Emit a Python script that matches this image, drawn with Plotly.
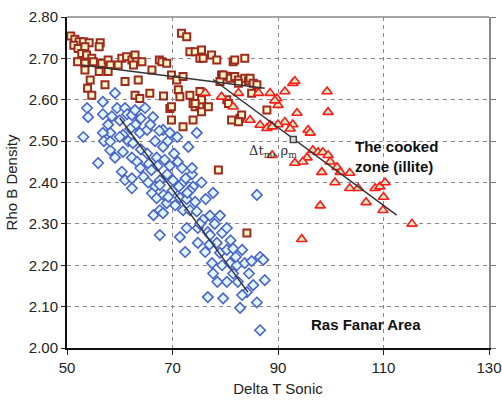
import plotly.graph_objects as go

# ---- data ----
blue_x = [53.8, 54.0, 53.1, 55.9, 56.8, 59.1, 56.8, 57.8, 59.5, 58.2, 60.0, 61.0, 61.4, 62.3, 62.9, 64.8, 66.3,
          60.6, 61.6, 62.5, 63.8, 65.2, 66.7, 68.2, 69.1, 70.9, 73.0, 74.6, 59.1, 60.6, 62.3, 63.3, 65.2, 67.0,
          68.2, 60.4, 61.0, 62.3, 62.3, 63.9, 64.5, 65.4, 66.7, 67.6, 69.0, 70.1, 71.0, 71.8, 72.0, 73.7, 73.9,
          77.7, 56.8, 58.2, 66.4, 67.6, 67.6, 66.1, 67.0, 68.3, 68.9, 67.6, 68.2, 73.7, 73.3, 71.4, 72.7, 74.3,
          72.0, 73.3, 74.6, 75.8, 77.1, 79.0, 86.0, 72.7, 74.8, 76.7, 79.4, 80.3, 71.4, 72.4, 74.8, 76.2, 77.1,
          78.4, 79.0, 80.3, 81.5, 83.2, 77.5, 79.4, 77.7, 80.9, 82.2, 83.7, 80.3, 82.4, 85.3, 84.1, 76.7, 79.6,
          83.2, 86.0, 82.8, 86.6, 87.2, 87.5, 86.6, 75.2,
          64.0, 65.5, 66.0, 67.2, 68.5, 69.5, 70.3, 70.0, 71.2, 72.5, 69.2, 70.5, 72.8, 63.0, 64.0, 65.8, 67.5,
          69.5, 62.0, 58.5, 57.0, 75.5, 76.3, 78.0, 81.0, 82.0, 84.5, 85.0, 78.5, 81.5, 77.0, 60.0, 58.2]
blue_y = [2.580, 2.558, 2.510, 2.447, 2.595, 2.616, 2.565, 2.540, 2.580, 2.520, 2.550, 2.580, 2.565, 2.563, 2.575,
          2.580, 2.558, 2.515, 2.500, 2.495, 2.520, 2.527, 2.500, 2.527, 2.500, 2.510, 2.486, 2.520, 2.460, 2.474,
          2.460, 2.450, 2.470, 2.460, 2.486, 2.426, 2.406, 2.410, 2.386, 2.435, 2.414, 2.400, 2.390, 2.405, 2.420,
          2.405, 2.450, 2.435, 2.400, 2.420, 2.390, 2.375, 2.520, 2.478, 2.321, 2.333, 2.273, 2.374, 2.362, 2.370,
          2.350, 2.394, 2.326, 2.435, 2.380, 2.363, 2.360, 2.353, 2.333, 2.333, 2.330, 2.310, 2.320, 2.320, 2.370,
          2.290, 2.290, 2.280, 2.278, 2.290, 2.268, 2.232, 2.254, 2.232, 2.273, 2.254, 2.230, 2.237, 2.240, 2.237,
          2.205, 2.200, 2.180, 2.205, 2.200, 2.205, 2.160, 2.160, 2.152, 2.135, 2.123, 2.120, 2.128, 2.110, 2.097,
          2.220, 2.213, 2.164, 2.043, 2.300,
          2.480, 2.445, 2.430, 2.440, 2.455, 2.440, 2.470, 2.380, 2.390, 2.410, 2.365, 2.345, 2.375, 2.540, 2.555,
          2.540, 2.525, 2.520, 2.530, 2.560, 2.500, 2.400, 2.360, 2.300, 2.260, 2.220, 2.180, 2.210, 2.160, 2.180,
          2.250, 2.510, 2.499]

brown_x = [50.7, 51.5, 52.3, 53.1, 54.2, 56.3, 56.1, 51.3, 52.1, 53.4, 52.8, 53.7, 54.7, 52.0, 53.4, 55.0, 56.6,
           53.4, 56.1, 57.8, 58.2, 57.8, 54.4, 53.9, 54.7, 57.2, 60.4, 61.3, 62.3, 62.9, 63.2, 64.2, 59.7, 62.6,
           66.1, 67.5, 68.0, 68.9, 61.0, 63.5, 62.9, 63.8, 65.7, 68.3, 69.5, 69.8, 69.8, 70.8, 72.0, 71.1, 71.4,
           73.3, 72.0, 73.9, 73.9, 74.3, 75.2, 75.5, 76.8, 71.7, 72.7, 73.3, 74.3, 75.5, 77.4, 78.4, 75.2, 75.8,
           81.5, 83.7, 81.8, 79.3, 80.3, 80.9, 81.8, 82.5, 83.7, 84.4, 79.0, 79.6, 82.5, 84.7, 85.3, 86.0, 80.3,
           80.6, 82.8, 83.1, 82.5, 78.7, 75.2, 74.3, 75.5, 85.0, 87.9, 81.2, 69.8, 84.1]
brown_y = [2.754, 2.746, 2.740, 2.740, 2.738, 2.738, 2.728, 2.732, 2.724, 2.728, 2.712, 2.708, 2.700, 2.692, 2.688,
           2.692, 2.688, 2.672, 2.668, 2.696, 2.684, 2.668, 2.648, 2.628, 2.611, 2.636, 2.700, 2.704, 2.696, 2.708,
           2.692, 2.692, 2.684, 2.684, 2.672, 2.696, 2.692, 2.688, 2.644, 2.648, 2.611, 2.603, 2.616, 2.609, 2.579,
           2.551, 2.660, 2.648, 2.656, 2.624, 2.607, 2.611, 2.535, 2.551, 2.591, 2.583, 2.583, 2.600, 2.583, 2.761,
           2.752, 2.716, 2.716, 2.720, 2.708, 2.696, 2.700, 2.700, 2.692, 2.700, 2.696, 2.660, 2.657, 2.652, 2.656,
           2.648, 2.652, 2.646, 2.644, 2.660, 2.640, 2.652, 2.640, 2.636, 2.600, 2.591, 2.555, 2.563, 2.547, 2.430,
           2.620, 2.591, 2.571, 2.616, 2.575, 2.551, 2.583, 2.278]

red_x = [76.2, 79.3, 82.5, 86.3, 88.5, 89.8, 81.5, 84.7, 86.6, 88.5, 87.9, 91.3, 92.8, 93.2, 99.3, 99.5, 90.0,
         89.4, 93.6, 91.3, 92.8, 90.0, 88.9, 92.3, 95.7, 96.1, 88.9, 96.6, 97.6, 98.5, 99.5, 95.5, 94.7, 93.2,
         99.9, 101.2, 101.8, 98.3, 103.6, 100.8, 103.6, 105.2, 108.4, 109.3, 110.3, 110.0, 109.9, 106.7, 98.0,
         115.4, 94.5]
red_y = [2.616, 2.607, 2.616, 2.616, 2.616, 2.603, 2.583, 2.551, 2.539, 2.539, 2.531, 2.620, 2.640, 2.645, 2.620,
         2.570, 2.587, 2.598, 2.568, 2.546, 2.540, 2.540, 2.535, 2.530, 2.527, 2.520, 2.466, 2.478, 2.473, 2.473,
         2.466, 2.460, 2.450, 2.447, 2.450, 2.437, 2.425, 2.425, 2.423, 2.400, 2.386, 2.386, 2.386, 2.390, 2.400,
         2.365, 2.333, 2.352, 2.344, 2.300, 2.263]

# trend lines
blue_line_x = [60.0, 84.3]
blue_line_y = [2.556, 2.135]
upper_line_x = [52.8, 87.5]
upper_line_y = [2.684, 2.628]
steep_line_x = [77.7, 112.5]
steep_line_y = [2.649, 2.321]
matrix_x = [92.9]
matrix_y = [2.504]

x_ticks = [50, 70, 90, 110, 130]
y_ticks = [2.0, 2.1, 2.2, 2.3, 2.4, 2.5, 2.6, 2.7, 2.8]

FONT = "Liberation Sans, Arial, sans-serif"

fig = go.Figure()
fig.add_trace(go.Scatter(x=blue_x, y=blue_y, mode="markers",
                         marker=dict(symbol="diamond", size=8, color="#dff6ff",
                                     line=dict(color="#4a64c8", width=1.6))))
fig.add_trace(go.Scatter(x=brown_x, y=brown_y, mode="markers",
                         marker=dict(symbol="square", size=7, color="#fff6c8",
                                     line=dict(color="#9c2a1e", width=2))))
fig.add_trace(go.Scatter(x=red_x, y=red_y, mode="markers",
                         marker=dict(symbol="triangle-up", size=9, color="#c8efc4",
                                     line=dict(color="#ff1a1a", width=1.6))))
for lx, ly in [(blue_line_x, blue_line_y), (upper_line_x, upper_line_y), (steep_line_x, steep_line_y)]:
    fig.add_trace(go.Scatter(x=lx, y=ly, mode="lines", line=dict(color="#333333", width=1.5)))
fig.add_trace(go.Scatter(x=matrix_x, y=matrix_y, mode="markers",
                         marker=dict(symbol="square", size=6, color="#dddddd",
                                     line=dict(color="#444444", width=1.5))))

fig.add_annotation(x=94.0, y=2.476, xref="x", yref="y", xanchor="right", yanchor="middle",
                   text="Δt<sub>m</sub>, ρ<sub>m</sub>", showarrow=False,
                   font=dict(family="DejaVu Serif, Liberation Serif, serif", size=13, color="#333333"))
fig.add_annotation(x=104.2, y=2.463, xref="x", yref="y", xanchor="left", yanchor="middle",
                   text="<b>The cooked<br>zone (illite)</b>", showarrow=False, align="left",
                   font=dict(family=FONT, size=15, color="#111111"))
fig.add_annotation(x=106.6, y=2.058, xref="x", yref="y", xanchor="center", yanchor="middle",
                   text="<b>Ras Fanar Area</b>", showarrow=False,
                   font=dict(family=FONT, size=15, color="#111111"))

# top frame line (gray)
fig.add_shape(type="line", xref="paper", yref="paper", x0=0, x1=1, y0=1, y1=1,
              line=dict(color="#888888", width=1.5))

fig.update_layout(
    width=502, height=400,
    margin=dict(l=67, r=13, t=17, b=52, autoexpand=False),
    paper_bgcolor="white", plot_bgcolor="white",
    showlegend=False,
    font=dict(family=FONT, size=15, color="#222222"),
    xaxis=dict(range=[50, 130], tickvals=x_ticks, ticks="outside", ticklen=5, tickcolor="#222",
               showline=True, linecolor="#111111", linewidth=2, automargin=False,
               showgrid=True, gridcolor="#8a8a8a", griddash="4px,4px", gridwidth=1,
               zeroline=False, tickfont=dict(size=15, color="#222222"),
               title=dict(text="Delta T Sonic", font=dict(size=15, color="#222222"), standoff=8)),
    yaxis=dict(range=[2.0, 2.8], tickvals=y_ticks, tickformat=".2f", ticks="outside", ticklen=4,
               tickcolor="#222", showline=True, linecolor="#111111", linewidth=2, automargin=False,
               showgrid=True, gridcolor="#8a8a8a", griddash="4px,4px", gridwidth=1,
               zeroline=False, tickfont=dict(size=15, color="#222222"),
               title=dict(text="Rho B Density", font=dict(size=15, color="#222222"), standoff=8)),
    yaxis2=dict(range=[2.0, 2.8], tickvals=y_ticks, overlaying="y", side="right", showticklabels=False,
                ticks="outside", ticklen=5, tickcolor="#777777", showline=True, linecolor="#888888",
                linewidth=1.5, showgrid=False, zeroline=False, automargin=False),
)
# dummy trace to activate yaxis2
fig.add_trace(go.Scatter(x=[None], y=[None], yaxis="y2", mode="markers", showlegend=False))

fig.write_html("out.html")
